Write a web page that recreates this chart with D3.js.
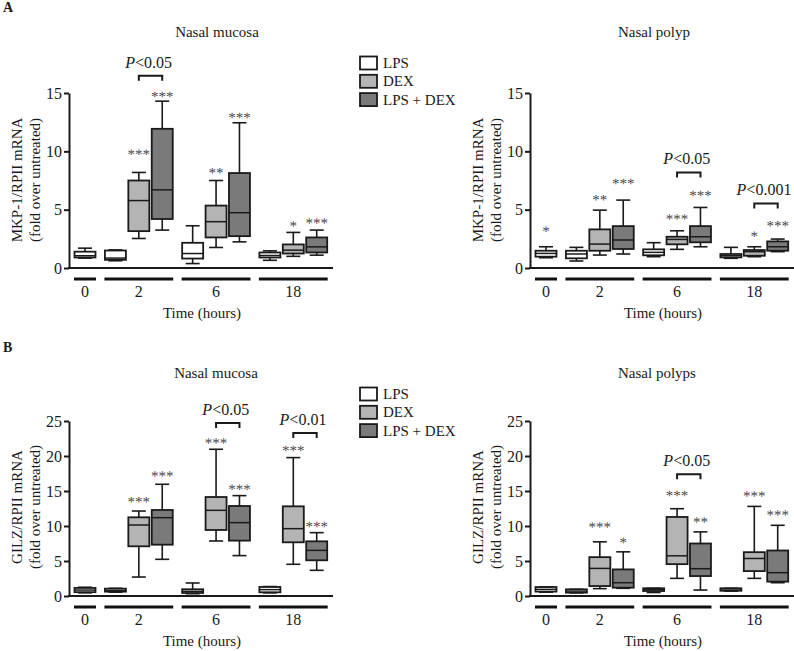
<!DOCTYPE html>
<html><head><meta charset="utf-8">
<script src="https://cdn.jsdelivr.net/npm/d3@7"></script>
<style>
body{margin:0;background:#fff}
svg{display:block}
text{font-family:"Liberation Serif","Times New Roman",serif;fill:#1a1a1a}
.star{fill:#4a4a4a;text-rendering:geometricPrecision}
</style>
</head><body><svg id="c" width="794" height="651"></svg>
<script>
// ---------- data ----------
const timeGroups = ["0","2","6","18"];
const treatments = ["LPS","DEX","LPS + DEX"];
const slotGroup = ["0","2","2","2","6","6","6","18","18","18"];
const slotTreatment = ["LPS","LPS","DEX","LPS + DEX","LPS","DEX","LPS + DEX","LPS","DEX","LPS + DEX"];

// five-number summaries: [min, q1, median, q3, max]
const mkpMucosa = [
  [0.85,0.9,1.05,1.4,1.7],
  [0.62,0.7,0.85,1.5,1.55],
  [2.53,3.16,5.78,7.5,8.19],
  [3.25,4.2,6.7,11.93,14.3],
  [0.38,0.81,1.24,2.16,3.62],
  [1.76,2.62,3.97,5.35,7.5],
  [2.24,2.73,4.74,8.14,12.45],
  [0.66,0.9,1.07,1.33,1.47],
  [1.0,1.24,1.53,2.02,3.05],
  [1.1,1.33,1.81,2.62,3.25]
];
const mkpMucosaStars = ["","","***","***","","**","***","","*","***"];
const mkpMucosaStarAt = [0,0,10.0,14.95,0,8.42,13.16,0,3.85,4.11];
const mkpMucosaP = [{from:2,to:3,label:"<0.05",level:16.47}];

const mkpPolyp = [
  [0.88,0.97,1.25,1.48,1.82],
  [0.6,0.83,1.2,1.48,1.77],
  [1.11,1.48,2.05,3.31,4.96],
  [1.2,1.63,2.4,3.59,5.82],
  [0.97,1.09,1.34,1.6,2.17],
  [1.6,2.03,2.45,2.68,3.19],
  [1.82,2.2,2.68,3.59,5.19],
  [0.83,0.91,1.05,1.2,1.77],
  [0.97,1.05,1.4,1.54,1.82],
  [1.4,1.48,1.82,2.28,2.48]
];
const mkpPolypStars = ["*","","**","***","","***","***","","*","***"];
const mkpPolypStarAt = [3.4,0,6.1,7.5,0,4.45,6.47,0,2.97,3.88];
const mkpPolypP = [{from:5,to:6,label:"<0.05",level:8.19},{from:8,to:9,label:"<0.001",level:5.53}];

const gilzMucosa = [
  [0.45,0.55,0.85,1.15,1.25],
  [0.55,0.62,0.8,1.05,1.1],
  [2.71,7.1,10.14,11.24,12.14],
  [5.24,7.33,11.19,12.29,15.96],
  [0.33,0.43,0.67,0.96,1.86],
  [7.86,9.43,12.24,14.14,20.96],
  [5.77,7.91,10.48,12.86,14.34],
  [0.45,0.53,0.91,1.29,1.35],
  [4.53,7.67,9.62,12.81,19.77],
  [3.67,5.1,6.52,7.81,9.05]
];
const gilzMucosaStars = ["","","***","***","","***","***","","***","***"];
const gilzMucosaStarAt = [0,0,13.9,17.57,0,22.3,15.67,0,21.2,10.34];
const gilzMucosaP = [{from:5,to:6,label:"<0.05",level:24.7},{from:8,to:9,label:"<0.01",level:23.3}];

const gilzPolyp = [
  [0.55,0.63,0.95,1.28,1.3],
  [0.45,0.48,0.7,0.95,0.95],
  [1.05,1.42,3.94,5.55,7.74],
  [1.1,1.19,1.9,3.8,6.31],
  [0.5,0.71,0.9,1.1,1.1],
  [2.52,4.55,5.74,11.29,12.47],
  [0.85,2.85,3.9,7.5,9.16],
  [0.7,0.75,0.85,1.1,1.1],
  [2.52,3.56,5.36,6.26,12.8],
  [1.9,2.05,3.33,6.5,10.1]
];
const gilzPolypStars = ["","","***","*","","***","**","","***","***"];
const gilzPolypStarAt = [0,0,10.3,8.07,0,14.8,11.0,0,14.7,12.0];
const gilzPolypP = [{from:5,to:6,label:"<0.05",level:17.4}];

const mkpTicks = [0,5,10,15];
const gilzTicks = [0,5,10,15,20,25];

// ---------- drawing ----------
const svg = d3.select("#c");
const fillColor = d3.scaleOrdinal().domain(treatments).range(["#ffffff","#b4b4b4","#7a7a7a"]);
const stroke = "#1a1a1a";

svg.append("text").attr("x",3).attr("y",12).attr("font-size",14).attr("font-weight","bold").text("A");
svg.append("text").attr("x",3).attr("y",352).attr("font-size",14).attr("font-weight","bold").text("B");

const panels = [
  {data:mkpMucosa, stars:mkpMucosaStars, starAt:mkpMucosaStarAt, p:mkpMucosaP, ticks:mkpTicks,
   ox:0, y0:268, title:"Nasal mucosa", tx:217, ty:37, ylab:"MKP-1/RPII mRNA", ylabY:180, timeY:318},
  {data:mkpPolyp, stars:mkpPolypStars, starAt:mkpPolypStarAt, p:mkpPolypP, ticks:mkpTicks,
   ox:461, y0:268, title:"Nasal polyp", tx:654, ty:37, ylab:"MKP-1/RPII mRNA", ylabY:180, timeY:318},
  {data:gilzMucosa, stars:gilzMucosaStars, starAt:gilzMucosaStarAt, p:gilzMucosaP, ticks:gilzTicks,
   ox:0, y0:596, title:"Nasal mucosa", tx:216, ty:378, ylab:"GILZ/RPII mRNA", ylabY:507, timeY:646},
  {data:gilzPolyp, stars:gilzPolypStars, starAt:gilzPolypStarAt, p:gilzPolypP, ticks:gilzTicks,
   ox:461, y0:596, title:"Nasal polyps", tx:657, ty:378, ylab:"GILZ/RPII mRNA", ylabY:507, timeY:646}
];

// slot position (index plus gap between time groups)
const slotPos = slotGroup.map((g,i) => i + timeGroups.indexOf(g)*0.3);

panels.forEach(P => {
  const g = svg.append("g").attr("transform",`translate(${P.ox},0)`);
  const axisX = 69;
  const y = d3.scaleLinear().domain([0, d3.max(P.ticks)]).range([P.y0, P.y0-175]);
  const x = d3.scaleLinear().domain([0, 9.9]).range([85, 316.7]);
  const bw = 21, cap = 14;

  g.append("text").attr("x",P.tx-P.ox).attr("y",P.ty).attr("text-anchor","middle")
    .attr("font-size",15).text(P.title);

  const ax = g.append("g").attr("transform",`translate(${axisX},0)`)
    .call(d3.axisLeft(y).tickValues(P.ticks).tickSize(5).tickSizeOuter(0).tickPadding(2));
  ax.select(".domain").attr("stroke",stroke).attr("stroke-width",2);
  ax.selectAll(".tick line").attr("stroke",stroke).attr("stroke-width",2);
  ax.selectAll(".tick text").attr("font-size",16).attr("font-family","Liberation Serif, serif").attr("fill","#1a1a1a");

  g.append("line").attr("x1",axisX-1).attr("x2",333).attr("y1",y(0)).attr("y2",y(0))
    .attr("stroke",stroke).attr("stroke-width",2);

  const yl = g.append("text").attr("transform",`translate(22,${P.ylabY}) rotate(-90)`)
    .attr("text-anchor","middle").attr("font-size",15);
  yl.append("tspan").attr("x",0).attr("dy",0).text(P.ylab);
  yl.append("tspan").attr("x",0).attr("dy",18).text("(fold over untreated)");

  timeGroups.forEach(tg => {
    const idx = slotGroup.map((s,i)=>s===tg?i:-1).filter(i=>i>=0);
    const x1 = x(slotPos[idx[0]])-11, x2 = x(slotPos[idx[idx.length-1]])+11;
    g.append("line").attr("x1",x1).attr("x2",x2).attr("y1",y(0)+11).attr("y2",y(0)+11)
      .attr("stroke","#111").attr("stroke-width",3);
    g.append("text").attr("x",(x1+x2)/2).attr("y",y(0)+29).attr("text-anchor","middle")
      .attr("font-size",16).text(tg);
  });
  g.append("text").attr("x",202).attr("y",P.timeY).attr("text-anchor","middle")
    .attr("font-size",15).text("Time (hours)");

  P.data.forEach((d,i) => {
    const cx = x(slotPos[i]);
    const [mn,q1,md,q3,mx] = d;
    const bg = g.append("g");
    bg.append("line").attr("x1",cx).attr("x2",cx).attr("y1",y(mx)).attr("y2",y(mn))
      .attr("stroke",stroke).attr("stroke-width",1.6);
    bg.append("line").attr("x1",cx-cap/2).attr("x2",cx+cap/2).attr("y1",y(mx)).attr("y2",y(mx))
      .attr("stroke",stroke).attr("stroke-width",1.6);
    bg.append("line").attr("x1",cx-cap/2).attr("x2",cx+cap/2).attr("y1",y(mn)).attr("y2",y(mn))
      .attr("stroke",stroke).attr("stroke-width",1.6);
    bg.append("rect").attr("x",cx-bw/2).attr("width",bw).attr("y",y(q3)).attr("height",Math.max(y(q1)-y(q3),1.5))
      .attr("fill",fillColor(slotTreatment[i])).attr("stroke",stroke).attr("stroke-width",1.8);
    bg.append("line").attr("x1",cx-bw/2).attr("x2",cx+bw/2).attr("y1",y(md)).attr("y2",y(md))
      .attr("stroke",stroke).attr("stroke-width",1.5);
    if (P.stars[i]) {
      const sy = y(P.starAt[i])+8;
      g.append("text").attr("class","star")
        .attr("transform",`translate(${cx},${sy}) rotate(0.05)`)
        .attr("text-anchor","middle").attr("font-size",15).text(P.stars[i]);
    }
  });

  P.p.forEach(b => {
    const xa = x(slotPos[b.from]), xb = x(slotPos[b.to]), yy = y(b.level);
    g.append("path").attr("d",`M${xa},${yy+5}V${yy}H${xb}V${yy+5}`)
      .attr("fill","none").attr("stroke",stroke).attr("stroke-width",2);
    const t = g.append("text").attr("x",(xa+xb)/2-2).attr("y",yy-8).attr("text-anchor","middle").attr("font-size",16);
    t.append("tspan").attr("font-style","italic").text("P");
    t.append("tspan").text(b.label);
  });
});

[{ly:63},{ly:394}].forEach(L => {
  treatments.forEach((t,i) => {
    const cy = L.ly + i*18.3;
    svg.append("rect").attr("x",360).attr("y",cy-6.5).attr("width",17).attr("height",13)
      .attr("fill",fillColor(t)).attr("stroke",stroke).attr("stroke-width",1.8);
    svg.append("text").attr("x",383).attr("y",cy+5).attr("font-size",15).text(t);
  });
});
</script>
</body></html>
